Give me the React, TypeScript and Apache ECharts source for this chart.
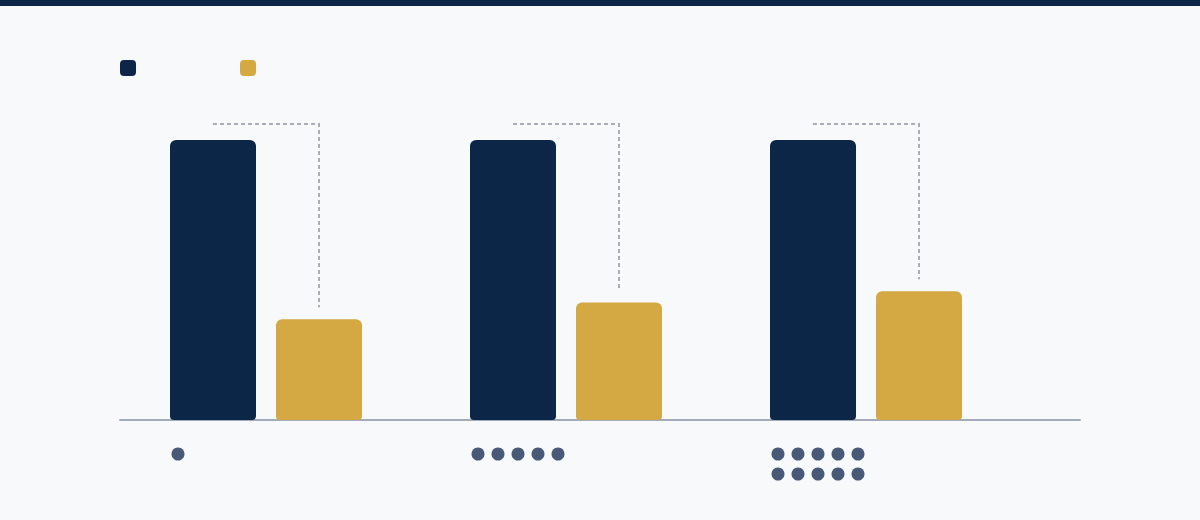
import { useEffect, useRef } from 'react';
import * as echarts from 'echarts';

// group labels (shown as dot counts under the axis)
const categories = ['1', '5', '10'];
const dotCounts = [1, 5, 10];

const seriesNames = ['Primary', 'Secondary'];
const primaryValues = [100, 100, 100];
const secondaryValues = [36, 42, 46];

const NAVY = '#0b2646';
const GOLD = '#d4a843';
const DOT = '#485a78';
const DASH = '#a9adb4';
const BAR_WIDTH = 86;
const BAR_GAP = 20;
const HALF_STEP = (BAR_WIDTH + BAR_GAP) / 2;

function buildOption(): echarts.EChartsOption {
  const connectorData = categories.map((_, i) => [i, primaryValues[i], secondaryValues[i]]);
  const dotData = categories.map((_, i) => [i, 0, dotCounts[i]]);

  return {
    animation: false,
    backgroundColor: '#f7f9fb',
    graphic: [
      { type: 'rect', left: 0, top: 0, shape: { width: 1200, height: 6 }, style: { fill: NAVY } }
    ],
    legend: {
      left: 120,
      top: 60,
      padding: 0,
      icon: 'roundRect',
      itemWidth: 16,
      itemHeight: 16,
      itemGap: 104,
      data: seriesNames,
      formatter: () => ''
    },
    grid: [
      { left: 116, width: 900, top: 140, bottom: 100 },
      { left: 120, right: 120, top: 140, bottom: 100 }
    ],
    xAxis: [
      {
        type: 'category',
        data: categories,
        axisLine: { show: false },
        axisTick: { show: false },
        axisLabel: { show: false }
      },
      {
        type: 'value',
        gridIndex: 1,
        min: 0,
        max: 1,
        axisLine: { show: true, lineStyle: { color: '#a3abba', width: 2 } },
        axisTick: { show: false },
        axisLabel: { show: false },
        splitLine: { show: false }
      }
    ],
    yAxis: [
      { type: 'value', min: 0, max: 100, show: false },
      { type: 'value', gridIndex: 1, min: 0, max: 1, show: false }
    ],
    series: [
      {
        name: seriesNames[0],
        type: 'bar',
        data: primaryValues,
        barWidth: BAR_WIDTH,
        barGap: `${(BAR_GAP / BAR_WIDTH) * 100}%`,
        itemStyle: { color: NAVY, borderRadius: [6, 6, 4, 4] }
      },
      {
        name: seriesNames[1],
        type: 'bar',
        data: secondaryValues,
        barWidth: BAR_WIDTH,
        itemStyle: { color: GOLD, borderRadius: [6, 6, 4, 4] }
      },
      {
        type: 'custom',
        data: connectorData,
        encode: { x: 0, y: [1, 2] },
        silent: true,
        renderItem: (_params: any, api: any) => {
          const idx = api.value(0);
          const top = api.coord([idx, api.value(1)]);
          const low = api.coord([idx, api.value(2)]);
          const x1 = top[0] - HALF_STEP;
          const x2 = top[0] + HALF_STEP;
          const yTop = top[1] - 16;
          const yEnd = low[1] - 12;
          return {
            type: 'polyline',
            shape: { points: [[x1, yTop], [x2, yTop], [x2, yEnd]] },
            style: { fill: 'none', stroke: DASH, lineWidth: 2, lineDash: [4, 3] }
          };
        }
      },
      {
        type: 'custom',
        data: dotData,
        encode: { x: 0, y: 1 },
        silent: true,
        renderItem: (_params: any, api: any) => {
          const idx = api.value(0);
          const count = api.value(2);
          const base = api.coord([idx, 0]);
          const x0 = base[0] - 88;
          const y0 = base[1] + 34;
          const children = [];
          for (let i = 0; i < count; i++) {
            children.push({
              type: 'circle',
              shape: { cx: x0 + (i % 5) * 20, cy: y0 + Math.floor(i / 5) * 20, r: 6.5 },
              style: { fill: DOT }
            });
          }
          return { type: 'group', children };
        }
      }
    ]
  };
}

export default function App() {
  const ref = useRef<HTMLDivElement | null>(null);

  useEffect(() => {
    document.body.style.margin = '0';
    if (!ref.current) return undefined;
    const chart = echarts.init(ref.current, undefined, { renderer: 'svg' });
    chart.setOption(buildOption());
    return () => chart.dispose();
  }, []);

  return <div ref={ref} style={{ width: 1200, height: 520 }} />;
}
